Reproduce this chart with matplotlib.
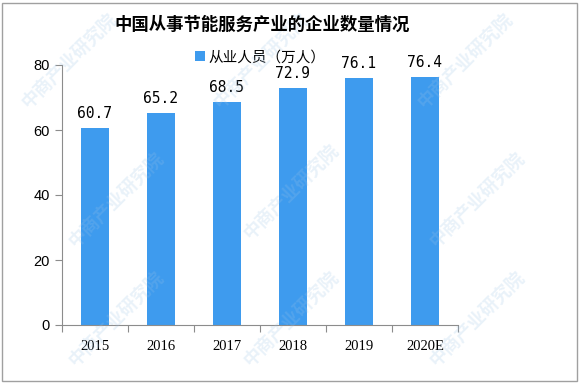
import matplotlib.pyplot as plt
from matplotlib.patches import Rectangle

plt.rcParams['font.family'] = ['Noto Sans CJK SC', 'DejaVu Sans']

years = ['2015', '2016', '2017', '2018', '2019', '2020E']
staff = [60.7, 65.2, 68.5, 72.9, 76.1, 76.4]
title = '中国从事节能服务产业的企业数量情况'
legend_label = '从业人员（万人）'
watermark = '中商产业研究院'

bar_color = '#3E9BEE'
axis_color = '#8C8C8C'

fig = plt.figure(figsize=(5.82, 3.84), dpi=100)
ax = fig.add_axes([62 / 582, 1 - 325 / 384, (458 - 62) / 582, (325 - 65) / 384])

# outer frame of the picture
fig.patches.append(Rectangle((2 / 582, 3 / 384), 575 / 582, 378 / 384,
                             transform=fig.transFigure, fill=False,
                             edgecolor='#A0A0A0', linewidth=1))

# faint watermarks
for wx, wy in [(0.12, 0.84), (0.45, 0.84), (0.8, 0.84),
               (0.2, 0.48), (0.5, 0.5), (0.82, 0.48),
               (0.2, 0.17), (0.5, 0.17), (0.82, 0.17)]:
    fig.text(wx, wy, watermark, fontsize=13, color='#9CC3E6', alpha=0.22,
             rotation=45, ha='center', va='center', fontweight='bold')

x = range(len(years))
bars = ax.bar(x, staff, width=0.41, color=bar_color, label=legend_label, zorder=2)
for xi, v in zip(x, staff):
    ax.text(xi, v + 2.2, f'{v:.1f}', ha='center', va='bottom',
            fontsize=10.5, family=['DejaVu Sans Mono'])

ax.set_xlim(-0.5, len(years) - 0.5)
ax.set_ylim(0, 80)
ax.set_yticks([0, 20, 40, 60, 80])
ax.set_xticks([i - 0.5 for i in range(len(years) + 1)], minor=False)
ax.set_xticklabels([])
ax.set_xticks(list(x), minor=True)
ax.set_xticklabels(years, minor=True, fontsize=10.5, family=['Liberation Serif'])
ax.tick_params(axis='x', which='major', direction='out', length=5, color=axis_color)
ax.tick_params(axis='x', which='minor', length=0, pad=11)
ax.tick_params(axis='y', direction='out', length=5, color=axis_color,
               labelsize=10.5, pad=4)
for lab in ax.get_yticklabels():
    lab.set_family(['Liberation Sans'])

for side in ['top', 'right']:
    ax.spines[side].set_visible(False)
for side in ['left', 'bottom']:
    ax.spines[side].set_color(axis_color)

fig.text(262 / 582, 1 - 25 / 384, title, ha='center', va='center',
         fontsize=12.5, fontweight='bold')
ax.legend(loc='center', bbox_to_anchor=(0.5, 1.03), frameon=False,
          fontsize=10.5, handlelength=0.7, handleheight=0.7, handletextpad=0.2)

fig.savefig('out.png', dpi=100)
